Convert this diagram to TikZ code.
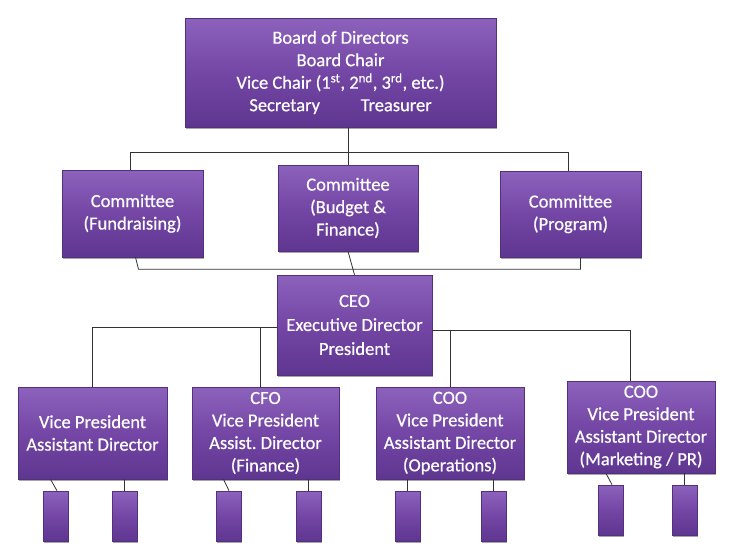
\documentclass[tikz,border=0pt]{standalone}
\usepackage{fontspec}
\setmainfont{Carlito}
\newfontfamily\boxfont{Carlito}[FakeBold=0.6]
\frenchspacing
\usetikzlibrary{shadows,calc}
\definecolor{ptop}{HTML}{8C62BC}
\definecolor{pmid}{HTML}{7446A5}
\definecolor{pbot}{HTML}{5E3690}
\definecolor{pedge}{HTML}{55307F}
\definecolor{lnc}{HTML}{333333}
\tikzset{
  box/.style={rectangle, draw=pedge, line width=0.6pt, top color=ptop, bottom color=pbot, middle color=pmid,
    text=white, align=center, inner sep=2pt,
    font=\boxfont\frenchspacing\fontsize{18.5}{22.5}\selectfont,
    drop shadow={shadow xshift=1pt, shadow yshift=-2pt, opacity=0.35, fill=black}},
  small/.style={box, minimum width=25pt, minimum height=50pt},
  conn/.style={draw=lnc, line width=0.8pt}
}
\begin{document}
\begin{tikzpicture}[x=1pt,y=-1pt]
\useasboundingbox (0,0) rectangle (740,550);
\fill[white] (0,0) rectangle (740,550);
% top
\node[box, minimum width=311pt, minimum height=109pt] (board) at (340.5,72.5)
  {Board of Directors\\Board Chair\\Vice Chair (1\textsuperscript{st}, 2\textsuperscript{nd}, 3\textsuperscript{rd}, etc.)\\Secretary\hspace{2.2em}Treasurer};
% committees
\node[box, minimum width=141pt, minimum height=87pt] (fund) at (132.5,213.5) {Committee\\(Fundraising)};
\node[box, minimum width=140pt, minimum height=86pt] (budget) at (348,208) {Committee\\(Budget \&\\Finance)};
\node[box, minimum width=141pt, minimum height=86pt] (prog) at (570.5,214) {Committee\\(Program)};
% ceo
\node[box, minimum width=155pt, minimum height=100pt, font=\boxfont\fontsize{18.5}{24}\selectfont] (ceo) at (354.5,325) {CEO\\Executive Director\\President};
% VPs
\node[box, minimum width=149pt, minimum height=92pt] (vp) at (92.5,433) {Vice President\\Assistant Director};
\node[box, minimum width=147pt, minimum height=92pt] (cfo) at (265.5,433) {CFO\\Vice President\\Assist. Director\\(Finance)};
\node[box, minimum width=148pt, minimum height=92pt] (ops) at (450,433) {COO\\Vice President\\Assistant Director\\(Operations)};
\node[box, minimum width=148pt, minimum height=92pt] (mkt) at (641,427) {COO\\Vice President\\Assistant Director\\(Marketing / PR)};
% small boxes
\node[small] (s1) at (55.5,516) {};
\node[small] (s2) at (124.5,516) {};
\node[small] (s3) at (228.5,516) {};
\node[small] (s4) at (308.5,516) {};
\node[small] (s5) at (407.5,516) {};
\node[small] (s6) at (493.5,516) {};
\node[small] (s7) at (610.5,510) {};
\node[small] (s8) at (684.5,510) {};
% connectors
\draw[conn] ($(fund.north)+(-2,0)$) -- ++(0,-17) -| ($(prog.north)+(-2,0)$);
\draw[conn] (budget.north) -- (budget.north |- board.south);
\draw[conn] ($(fund.south)+(3,0)$) -- ++(3,12) -| ($(prog.south)+(10,0)$);
\draw[conn] (budget.south) -- (ceo.north);
\draw[conn] ($(ceo.west)+(0,2)$) -| (vp.north);
\draw[conn] ($(cfo.north)+(-5,0)$) -- ($(cfo.north)+(-5,-60)$);
\draw[conn] ($(ceo.east)+(0,5)$) -| ($(mkt.north)+(-11,0)$);
\draw[conn] (ops.north) -- ++(0,-57);
\draw[conn] ($(vp.south)+(-42,0)$) -- ($(s1.north)+(1.5,0)$);
\draw[conn] (s2.north) -- (s2.north |- vp.south);
\draw[conn] ($(cfo.south)+(-42,0)$) -- ($(s3.north)+(0.5,0)$);
\draw[conn] (s4.north) -- (s4.north |- cfo.south);
\draw[conn] (s5.north) -- (s5.north |- ops.south);
\draw[conn] (s6.north) -- (s6.north |- ops.south);
\draw[conn] ($(mkt.south)+(-35,0)$) -- ($(s7.north)+(1.5,0)$);
\draw[conn] (s8.north) -- (s8.north |- mkt.south);
\end{tikzpicture}
\end{document}
